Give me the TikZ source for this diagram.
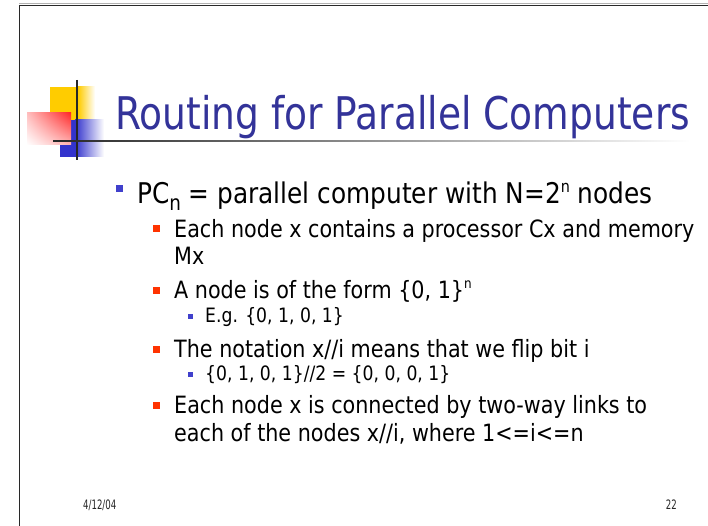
\documentclass[tikz,border=0pt]{standalone}
\usepackage{fontspec}
\setmainfont{DejaVu Sans}[FakeStretch=0.87]
\newfontfamily\titlefont{DejaVu Sans}[FakeStretch=0.835]
\newfontfamily\footfont{DejaVu Sans}[FakeStretch=0.66]
\usetikzlibrary{shadings}
\definecolor{titleblue}{RGB}{51,51,153}
\definecolor{bulblue}{RGB}{64,64,204}
\definecolor{bulred}{RGB}{255,51,0}
\definecolor{logoyellow}{RGB}{255,204,0}
\definecolor{logored}{RGB}{255,40,40}
\definecolor{logoblue}{RGB}{51,51,204}
\definecolor{framegray}{RGB}{40,40,40}
\tikzset{
  txt/.style={anchor=base west, inner sep=0pt, text=black},
  lone/.style={txt, font=\fontsize{28.5}{32}\selectfont},
  ltwo/.style={txt, font=\fontsize{23.8}{28}\selectfont},
  lthree/.style={txt, font=\fontsize{19.8}{22}\selectfont},
  bone/.style={fill=bulblue, minimum size=7pt, inner sep=0pt},
  btwo/.style={fill=bulred, minimum size=7pt, inner sep=0pt},
  bthree/.style={fill=bulblue, minimum size=5pt, inner sep=0pt},
}
% raised and lowered small n, sized relative to the running text
\newcommand{\supn}{\raisebox{0.42em}{\fontsize{0.58em}{0.6em}\selectfont n}}
\newcommand{\subn}{\raisebox{-0.22em}{\fontsize{0.74em}{0.8em}\selectfont n}}
\begin{document}
\begin{tikzpicture}[x=1pt,y=-1pt]
\useasboundingbox (0,0) rectangle (708,526);
\fill[white] (0,0) rectangle (708,526);
% slide frame
\draw[black!30, line width=1pt] (19,4) -- (708,4);
\draw[framegray, line width=1.5pt] (19.5,5.5) -- (708,5.5);
\draw[framegray, line width=1.5pt] (19.5,5) -- (19.5,526);
% logo
\fill[logoyellow] (50,87) rectangle (78,121);
\shade[left color=logoyellow, right color=white] (78,87) rectangle (95,121);
\fill[logoblue] (60,120) rectangle (75,157);
\shade[left color=logoblue, right color=white] (75,120) rectangle (104,157);
\shade[upper right=logored, upper left=logored!30, lower right=logored!35, lower left=white]
  (27,113) rectangle (71,145);
\draw[black!85, line width=1.3pt] (77,80) -- (77,160);
\shade[left color=black!85, right color=white] (53,140.2) rectangle (690,141.8);
% title
\node[anchor=base west, inner sep=0pt, text=titleblue, font=\titlefont\fontsize{45}{50}\selectfont]
  (title) at (115,130) {Routing for Parallel Computers};
% level one
\node[bone] (b1) at (119.5,189) {};
\node[lone] (t1) at (137,204) {PC\subn\ = parallel computer with N=2\supn\ nodes};
% level two and three
\node[btwo] (b2) at (156.5,229) {};
\node[ltwo] (t2) at (174,237) {Each node x contains a processor Cx and memory};
\node[ltwo] (t2b) at (174,265) {Mx};
\node[btwo] (b3) at (156.5,290) {};
\node[ltwo] (t3) at (174,298.5) {A node is of the form \{0, 1\}\supn};
\node[bthree] (b4) at (190.5,316) {};
\node[lthree] (t4) at (205,322) {E.g. \{0, 1, 0, 1\}};
\node[btwo] (b5) at (156.5,349) {};
\node[ltwo] (t5) at (174,357) {The notation x//i means that we flip bit i};
\node[bthree] (b6) at (190.5,374) {};
\node[lthree] (t6) at (205,380) {\{0, 1, 0, 1\}//2 = \{0, 0, 0, 1\}};
\node[btwo] (b7) at (156.5,405.5) {};
\node[ltwo] (t7) at (174,413.5) {Each node x is connected by two-way links to};
\node[ltwo] (t7b) at (174,441) {each of the nodes x//i, where 1<=i<=n};
% footer
\node[anchor=base west, inner sep=0pt, text=black!85, font=\footfont\fontsize{13}{15}\selectfont]
  (date) at (83,509) {4/12/04};
\node[anchor=base east, inner sep=0pt, text=black!85, font=\footfont\fontsize{13}{15}\selectfont]
  (page) at (677,509) {22};
\end{tikzpicture}
\end{document}
